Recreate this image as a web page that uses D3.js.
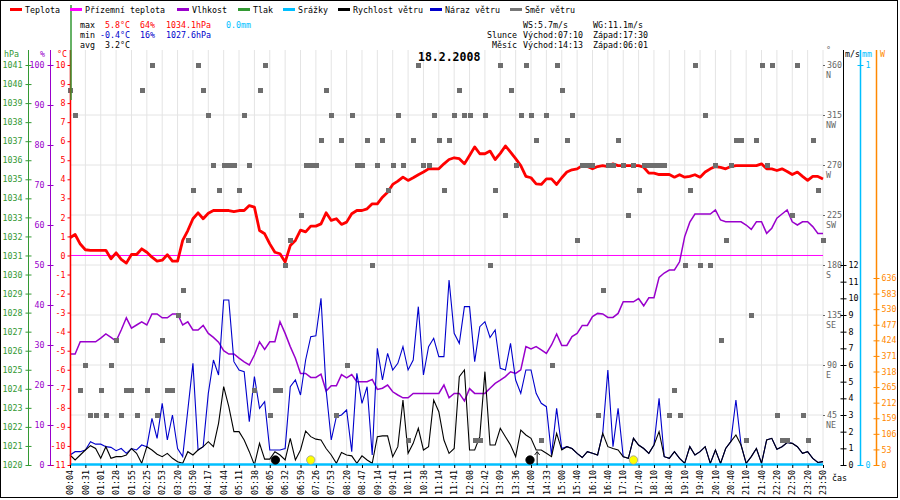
<!DOCTYPE html>
<html><head><meta charset="utf-8">
<script src="https://cdn.jsdelivr.net/npm/d3@7"></script>
<style>
body{margin:0;background:#fff}
svg text{font-family:"DejaVu Sans Mono",monospace;font-size:8.3px}
</style>
</head><body>
<svg id="c" width="900" height="500"></svg>
<script>
// ---------------- DATA ----------------
const timeLabels = ["00:04","00:31","01:01","01:28","01:55","02:25","02:53","03:20","03:50","04:17","04:44","05:11","05:38","06:05","06:32","06:59","07:26","07:53","08:20","08:47","09:14","09:41","10:11","10:38","11:14","11:41","12:08","12:42","13:09","13:36","14:00","14:33","15:00","15:40","16:10","16:40","17:10","17:40","18:10","18:40","19:10","19:40","20:10","20:40","21:10","21:40","22:20","22:50","23:20","23:50"];
const recordsPerLabel = 3;

const temperature = [0.93,1.1,0.6,0.3,0.27,0.27,0.27,0.27,-0.17,0.14,
-0.2,-0.4,0.05,0.05,0.35,0.17,-0.09,-0.3,-0.25,0.04,
-0.3,-0.3,0.79,1.31,1.93,2.24,1.93,2.22,2.36,2.36,
2.36,2.36,2.3,2.36,2.36,2.62,2.54,1.31,1.14,0.61,
0.17,0.09,-0.35,0.52,0.79,1.33,1.24,1.54,1.54,1.66,
2.24,1.84,1.93,1.63,1.75,2.19,2.36,2.36,2.45,2.71,
2.71,3.06,3.32,3.73,3.9,4.11,3.94,4.08,4.24,4.38,
4.55,4.55,4.55,4.81,5.04,5.13,5.08,4.81,5.25,5.7,
5.34,5.34,5.48,5.04,5.36,5.75,5.43,5.08,4.72,4.15,
4.08,3.76,3.73,4.02,4.02,3.73,4.08,4.38,4.5,4.55,
4.72,4.67,4.55,4.67,4.72,4.67,4.81,4.72,4.72,4.72,
4.72,4.72,4.63,4.32,4.32,4.25,4.25,4.25,4.11,4.24,
4.11,4.15,4.24,4.11,4.38,4.55,4.67,4.63,4.55,4.67,
4.72,4.72,4.72,4.72,4.72,4.81,4.55,4.55,4.46,4.55,
4.41,4.25,4.38,4.15,3.94,4.15,4.15,4.02];

const humidity = [27.75,27.75,30.8,30.8,30.8,30.8,31.7,32.75,31.9,31,
33.75,36.8,34.2,35,35.8,35,37.75,37.75,36.8,36.8,
37.75,37.75,35,35.8,33.75,33.75,34.9,32.9,31.9,30.7,
28.6,27.75,27.75,26.7,25.8,25,27.5,30.8,28.9,30.8,
30.8,35.8,32.9,29.6,26.7,22.9,22.9,21.9,21.9,22.7,
18.5,19.8,19.8,22.6,21.8,22.6,20.8,20.8,20.8,21.4,
18.9,19.2,20,18.3,17.5,16.8,16.8,17.9,17.9,17.9,
17.9,17.9,17.9,20,16.8,17.9,17.9,16,19.1,17.9,
17.9,17.9,19.2,20.4,21.2,22.1,23.3,22.9,23.8,29.6,
29,29.6,28.8,27.9,30,32.75,29.9,29.9,32.1,32.9,
34.9,34.9,37.1,37.9,37.75,36.9,36.9,37.9,40.8,40.8,
40.8,41.6,39.8,41.8,41.8,46.9,48,48.75,48.75,50.8,
57.1,60.7,62.75,62.75,62.75,62.75,63.75,61.25,60.8,60.8,
60.8,60.8,60,58.9,60.8,60.8,57.9,59.2,61.7,62.75,
63.75,60.8,60,60.8,60.8,59.6,57.9,57.9];

const windSpeed = [0.6,0.3,0.6,0.9,1.16,0.99,0.4,1.1,0.4,0.5,
0.5,0.6,0.99,0.7,0.1,1.1,0.9,0.65,0.5,0.7,
0.4,0.2,0.1,0.8,0.6,0.9,1.1,1.4,1.1,2.5,
4.7,3.5,2.0,2.0,1.5,0.8,0,1.3,0.35,0.35,
0.8,0.6,0.3,1.6,0.3,0.9,2.04,1.7,1.55,1.5,
0.99,0.6,0.1,0.75,0.6,0.55,0.1,0.55,0.3,0.1,
1.7,1.75,1.75,0.5,1.1,3.9,0.7,1.3,2.2,0.9,
1.1,3.9,3.2,1.5,0.7,0.99,5.3,5.7,0.9,0.9,
1.7,5.6,1.2,1.2,2.2,1.7,1.2,0.5,2.1,1.8,
1.6,0.9,0.9,0.7,0.5,1.9,0.9,1.1,0.99,0.7,
0.45,0.8,0.7,0.6,1.9,1.1,0.99,0.9,0.5,0.4,
1.6,1.2,0.99,0.7,1.2,2.0,0.5,0.4,0.8,0.4,
0.1,1.1,0.6,0.8,1.1,0.1,0.9,0.1,0.99,1.4,
1.8,1.2,0.1,0.5,0.99,0.1,1.5,1.6,0.95,1.1,
1.35,1.3,1.1,0.7,0.8,0.4,0.15,0.2];

const windGust = [0.6,0.8,0.8,0.9,1.4,1.25,1.25,1.1,1.06,0.86,
0.99,0.7,0.99,0.9,1.2,1.1,2.8,1.6,3.7,1.5,
3.0,0.99,0.5,3.3,6.1,0.9,1.1,4.3,6.3,5.4,
9.9,9.9,6.2,5.7,5.6,2.6,5.3,3.4,3.8,0.9,
0.9,0.9,0.99,4.7,5.1,4.2,6.3,7.7,7.75,10.0,
4.5,1.5,2.9,3.0,3.3,0.8,5.5,3.7,4.7,0.6,
7.0,5.1,6.7,5.7,6.1,7.1,5.7,6.3,9.5,5.4,
7.1,7.6,6.5,6.5,11.1,7.9,7.3,9.5,9.5,6.2,
8.3,8.6,7.65,8.1,5.8,5.7,7.3,5.1,4.3,5.7,
5.7,4.3,3.7,3.5,0.6,3.4,0.99,1.1,0.99,0.7,
0.45,0.8,0.7,0.6,1.9,5.7,1.1,3.4,0.5,0.4,
1.6,1.2,0.99,0.7,1.2,4.0,0.5,0.4,0.8,0.4,
0.1,1.1,0.6,0.8,1.1,0.1,0.9,0.1,0.99,1.4,
3.9,1.2,0.1,0.5,0.99,0.1,1.5,1.6,0.95,1.1,
1.35,1.3,1.1,0.7,0.8,0.4,0.15,0.2];

const windDir = [337.5,315,67.5,90,45,45,67.5,45,90,112.5,
45,67.5,67.5,45,337.5,67.5,360,45,112.5,67.5,
67.5,135,157.5,202.5,247.5,360,337.5,315,270,247.5,
270,270,270,247.5,315,270,67.5,337.5,360,45,
67.5,67.5,180,202.5,135,225,270,270,270,292.5,
337.5,315,45,292.5,90,315,270,270,292.5,180,
270,292.5,247.5,270,315,270,22.5,292.5,360,270,
270,315,292.5,247.5,292.5,315,337.5,315,315,22.5,
22.5,315,180,247.5,360,225,337.5,270,315,360,
315,292.5,22.5,315,90,360,337.5,292.5,315,202.5,
270,270,270,45,157.5,270,270,292.5,270,225,
270,247.5,270,270,270,270,270,45,67.5,45,
180,247.5,360,180,315,180,270,112.5,202.5,270,
292.5,292.5,22.5,135,292.5,360,270,360,45,22.5,
22.5,225,360,45,22.5,292.5,247.5,202.5];

const groundTempLevel = 0;   // Přízemní teplota
const precipitationLevel = 0.0; // Srážky
// sun / moon events as (fractional) record index
const events = [
  {kind:"moon", idx:40.1},
  {kind:"sun",  idx:47.0},
  {kind:"moon", idx:89.8},
  {kind:"sun",  idx:110.0}
];
const arrowIdx = 91.2;

const legendNames = ["Teplota","Přízemní teplota","Vlhkost","Tlak","Srážky","Rychlost větru","Náraz větru","Směr větru"];
const legendColors = ["#ff0000","#ff00ff","#9900cc","#339933","#00bfff","#000000","#0000cc","#777777"];

const hpaTicks = d3.range(1020, 1042);
const humTicks = d3.range(0, 101, 10);
const tempTicks = d3.range(-11, 11);
const dirTicks = [45,90,135,180,225,270,315,360];
const dirNames = ["NE","E","SE","S","SW","W","NW","N"];
const msTicks = d3.range(0, 13);
const mmTicks = [0, 1];
const wTicks = [0,53,106,159,212,265,318,371,424,477,530,583,636];

// ---------------- DRAW ----------------
const svg = d3.select("#c");
const L = 70, R = 823, T = 65, B = 465;
const N = temperature.length;
const x = d3.scaleLinear().domain([0, N - 1]).range([L, R]);
const yT = d3.scaleLinear().domain([-11, 10]).range([B, T]);
const yH = d3.scaleLinear().domain([0, 100]).range([B, T]);
const yP = d3.scaleLinear().domain([1020, 1041]).range([B, T]);
const yD = d3.scaleLinear().domain([0, 360]).range([B, T]);
const yW = d3.scaleLinear().domain([0, 12]).range([B, 265]);
const yMM = d3.scaleLinear().domain([0, 1]).range([B, T]);
const yRad = d3.scaleLinear().domain([0, 636 * 400 / 187]).range([B, T]);

function text(g, x0, y0, s, col, anchor, extra) {
  const t = g.append("text").attr("x", x0).attr("y", y0).attr("fill", col || "#000")
    .attr("text-anchor", anchor || "start").text(s);
  if (extra) extra(t);
  return t;
}

// border
svg.append("rect").attr("x",0.5).attr("y",0.5).attr("width",897).attr("height",497)
  .attr("fill","#fff").attr("stroke","#000");

// grid
const grid = svg.append("g").attr("stroke","#e4e4e4").attr("stroke-width",1);
d3.range(0, N, recordsPerLabel).forEach(i => {
  grid.append("line").attr("x1", x(i)).attr("x2", x(i)).attr("y1", 50).attr("y2", B);
});
[45,90,135,180,225,270,315].forEach(d => {
  grid.append("line").attr("x1", L).attr("x2", R).attr("y1", yD(d)).attr("y2", yD(d));
});

// ground temperature line
svg.append("line").attr("x1", L).attr("x2", R).attr("y1", yT(groundTempLevel)).attr("y2", yT(groundTempLevel))
  .attr("stroke", "#ff00ff").attr("stroke-width", 1);

const lineOf = (arr, ys) => d3.line().x((d, i) => x(i)).y(d => ys(d))(arr);

svg.append("path").attr("d", lineOf(humidity, yH)).attr("fill","none").attr("stroke","#9900cc").attr("stroke-width",1.5);
svg.append("path").attr("d", lineOf(temperature, yT)).attr("fill","none").attr("stroke","#ff0000").attr("stroke-width",2.8).attr("stroke-linejoin","round");
svg.append("path").attr("d", lineOf(windGust, yW)).attr("fill","none").attr("stroke","#0000cc").attr("stroke-width",1.1);
svg.append("path").attr("d", lineOf(windSpeed, yW)).attr("fill","none").attr("stroke","#000").attr("stroke-width",1.1);

// precipitation
svg.append("line").attr("x1", L).attr("x2", R).attr("y1", yMM(precipitationLevel) - 0.5).attr("y2", yMM(precipitationLevel) - 0.5)
  .attr("stroke","#00bfff").attr("stroke-width",2.5);

// wind direction squares
svg.append("g").selectAll("rect").data(windDir).join("rect")
  .attr("x", (d, i) => Math.round(x(i)) - 2).attr("y", d => Math.round(yD(d)) - 2)
  .attr("width", 5).attr("height", 5).attr("fill", "#6e6e6e");

// events
events.forEach(e => {
  svg.append("circle").attr("cx", x(e.idx)).attr("cy", 460).attr("r", 4.2)
    .attr("fill", e.kind === "sun" ? "#ffff00" : "#000")
    .attr("stroke", e.kind === "sun" ? "#999" : "#000").attr("stroke-width", 0.8);
});
svg.append("line").attr("x1", x(arrowIdx)).attr("x2", x(arrowIdx)).attr("y1", 465).attr("y2", 452).attr("stroke","#000").attr("stroke-width",0.9);
svg.append("path").attr("d", `M${x(arrowIdx)-2.5},${455}L${x(arrowIdx)},${451.5}L${x(arrowIdx)+2.5},${455}`).attr("fill","none").attr("stroke","#000").attr("stroke-width",0.9);

// ---------- axes ----------
function styleAxis(g, col) {
  g.attr("font-size", null).attr("font-family", null);
  g.select(".domain").remove();
  g.selectAll("line").attr("stroke", col);
  g.selectAll("text").attr("fill", col);
}
function vline(x0, y1, y2, col, w) {
  svg.append("line").attr("x1", x0).attr("x2", x0).attr("y1", y1).attr("y2", y2).attr("stroke", col).attr("stroke-width", w || 1);
}

// hPa
vline(28.5, 50, B, "#339933");
const gP = svg.append("g").attr("transform","translate(28.5,0)")
  .call(d3.axisLeft(yP).tickValues(hpaTicks).tickSize(3).tickPadding(3).tickFormat(d => String(d)));
styleAxis(gP, "#339933"); gP.selectAll(".tick line").attr("x2", 3).attr("x1", -3);
// %
vline(50.5, 50, B, "#9900cc");
const gH = svg.append("g").attr("transform","translate(50.5,0)")
  .call(d3.axisLeft(yH).tickValues(humTicks).tickSize(3).tickPadding(3).tickFormat(d => String(d)));
styleAxis(gH, "#9900cc"); gH.selectAll(".tick line").attr("x2", 3).attr("x1", -3);
// °C
vline(70.5, 50, B, "#ff0000", 1.5);
const gT = svg.append("g").attr("transform","translate(70.5,0)")
  .call(d3.axisLeft(yT).tickValues(tempTicks).tickSize(3).tickPadding(2).tickFormat(d => String(d)));
styleAxis(gT, "#ff0000");
// pressure trace at left edge
vline(71, 5, 100, "#339933", 1.5);

text(svg, 4, 57, "hPa", "#339933");
text(svg, 40, 57, "%", "#9900cc");
text(svg, 57, 57, "°C", "#ff0000");

// direction axis
const gD = svg.append("g").attr("transform",`translate(${R},0)`)
  .call(d3.axisRight(yD).tickValues(dirTicks).tickSize(2).tickPadding(2).tickFormat(d => String(d)));
styleAxis(gD, "#666");
gD.selectAll(".tick").append("text").attr("x", 3).attr("dy", "1.5em").attr("fill","#666")
  .text((d) => dirNames[dirTicks.indexOf(d)]);
text(svg, 826, 53, "°", "#666");

// m/s axis
vline(843.5, 50, B, "#000");
const gW = svg.append("g").attr("transform","translate(843.5,0)")
  .call(d3.axisRight(yW).tickValues(msTicks).tickSize(3).tickPadding(2).tickFormat(d => String(d)));
styleAxis(gW, "#000"); gW.selectAll(".tick line").attr("x1", -3);
text(svg, 845, 57, "m/s", "#000");
// mm axis
vline(860.5, 50, B, "#00bfff", 1.5);
const gM = svg.append("g").attr("transform","translate(860.5,0)")
  .call(d3.axisRight(yMM).tickValues(mmTicks).tickSize(3).tickPadding(2).tickFormat(d => String(d)));
styleAxis(gM, "#00bfff"); gM.selectAll(".tick line").attr("x1", -3);
text(svg, 862, 57, "mm", "#00bfff");
// W axis
vline(876.5, 50, B, "#ff8800", 1.5);
const gR = svg.append("g").attr("transform","translate(876.5,0)")
  .call(d3.axisRight(yRad).tickValues(wTicks).tickSize(3).tickPadding(2).tickFormat(d => String(d)));
styleAxis(gR, "#ff8800"); gR.selectAll(".tick line").attr("x1", -3);
text(svg, 880, 57, "W", "#ff8800");

// time axis
const gX = svg.append("g").attr("transform",`translate(0,${B})`)
  .call(d3.axisBottom(x).tickValues(d3.range(0, N, recordsPerLabel)).tickSize(3)
    .tickFormat(i => timeLabels[i / recordsPerLabel]));
styleAxis(gX, "#000");
gX.selectAll(".tick text").attr("transform","rotate(-90)").attr("text-anchor","end")
  .attr("x", -5).attr("y", 0).attr("dy", "0.32em");
text(svg, 832, 481, "čas", "#000");

// ---------- header ----------
const lx = [10, 70, 177, 238, 283, 338, 430, 510];
legendNames.forEach((n, k) => {
  svg.append("line").attr("x1", lx[k]).attr("x2", lx[k] + 12).attr("y1", 9.5).attr("y2", 9.5)
    .attr("stroke", legendColors[k]).attr("stroke-width", 3);
  text(svg, lx[k] + 15, 12.5, n, "#000");
});

text(svg, 80, 27.5, "max", "#000");
text(svg, 130, 27.5, "5.8°C", "#ff0000", "end");
text(svg, 140, 27.5, "64%", "#ff0000");
text(svg, 166, 27.5, "1034.1hPa", "#ff0000");
text(svg, 226, 27.5, "0.0mm", "#00bfff");
text(svg, 80, 37.5, "min", "#000");
text(svg, 130, 37.5, "-0.4°C", "#0000cc", "end");
text(svg, 140, 37.5, "16%", "#0000cc");
text(svg, 166, 37.5, "1027.6hPa", "#0000cc");
text(svg, 80, 47.5, "avg", "#000");
text(svg, 130, 47.5, "3.2°C", "#000", "end");

text(svg, 523, 27.5, "WS:5.7m/s", "#000");
text(svg, 593, 27.5, "WG:11.1m/s", "#000");
text(svg, 517, 37.5, "Slunce", "#000", "end");
text(svg, 523, 37.5, "Východ:07:10", "#000");
text(svg, 593, 37.5, "Západ:17:30", "#000");
text(svg, 517, 47.5, "Měsíc", "#000", "end");
text(svg, 523, 47.5, "Východ:14:13", "#000");
text(svg, 593, 47.5, "Západ:06:01", "#000");

text(svg, 418, 61, "18.2.2008", "#000", "start", t => t.style("font-size","11.5px").style("font-weight","bold"));
</script>
</body></html>
